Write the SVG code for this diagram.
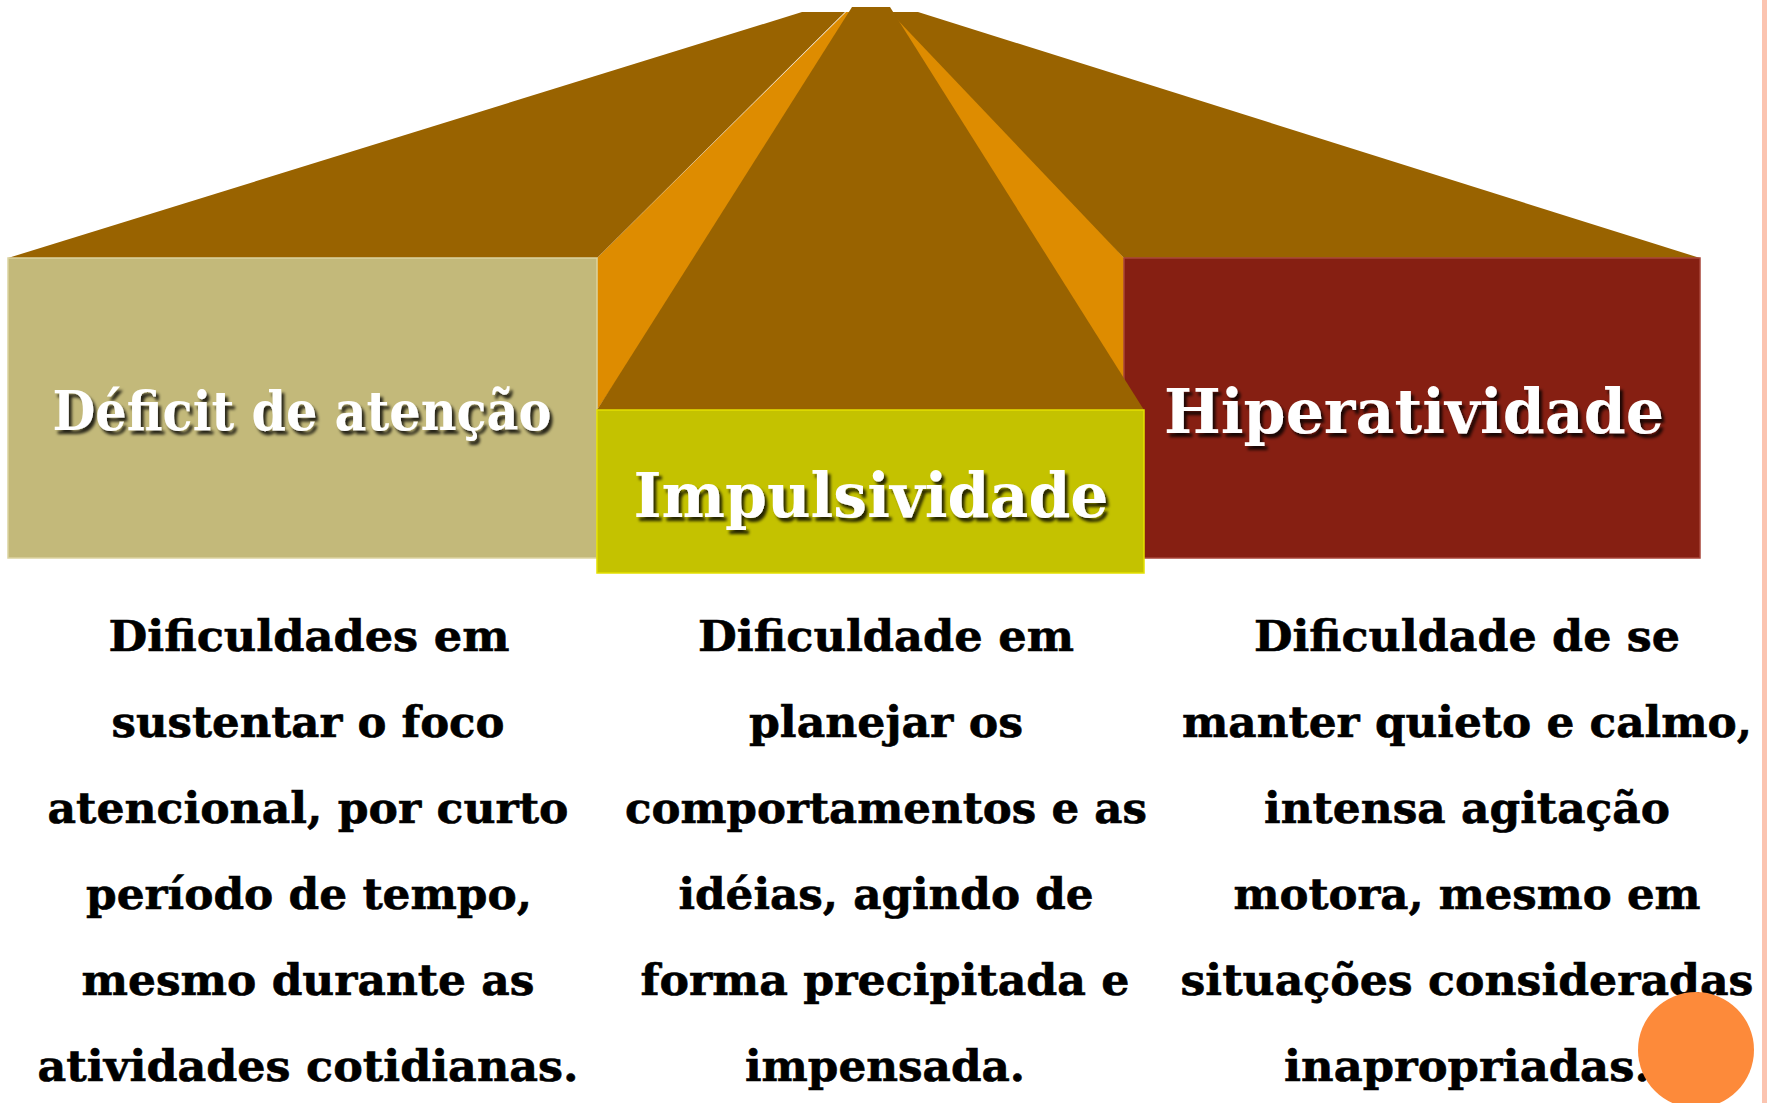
<svg xmlns="http://www.w3.org/2000/svg" width="1767" height="1103" viewBox="0 0 1767 1103">
  <defs>
    <filter id="shadow" x="-10%" y="-30%" width="120%" height="160%">
      <feDropShadow dx="3" dy="4" stdDeviation="1.6" flood-color="#000" flood-opacity="0.8"/>
    </filter>
    <style>
      .roof { fill: #996300; }
      .side { fill: #DE8C00; }
      .head { font-family: "DejaVu Serif", "Liberation Serif", serif; font-weight: bold; fill: #ffffff; text-anchor: middle; filter: url(#shadow); }
      .body { font-family: "DejaVu Serif", "Liberation Serif", serif; font-weight: bold; font-size: 43px; fill: #000000; stroke: #000000; stroke-width: 0.6; text-anchor: middle; }
    </style>
  </defs>
  <rect x="0" y="0" width="1767" height="1103" fill="#ffffff"/>
  <rect x="1762" y="0" width="5" height="1103" fill="#FBC4B0"/>

  <g id="roof">
    <polygon class="side" points="597,258 846,12 862,12 597,410"/>
    <polygon class="side" points="882,12 906,12 1124,258 1124,410 1144,410"/>
    <polygon class="roof" points="8,258 802,12 845,12 597,258"/>
    <polygon class="roof" points="890,12 918,12 1700,258 1124,258"/>
  </g>

  <g id="node-hiperatividade">
    <rect x="1124" y="258" width="576" height="300" fill="#861F12" stroke="#A8463A" stroke-width="1.5"/>
    <text class="head" x="1414" y="433" font-size="62" textLength="500" lengthAdjust="spacingAndGlyphs">Hiperatividade</text>
  </g>

  <g id="node-deficit">
    <rect x="8" y="258" width="589" height="300" fill="#C3B97A" stroke="#DCD3A0" stroke-width="1.5"/>
    <text class="head" x="302" y="430" font-size="54" textLength="499" lengthAdjust="spacingAndGlyphs">Déficit de atenção</text>
  </g>

  <g id="node-impulsividade">
    <polygon class="roof" points="852,7 890,7 1144,410 597,410"/>
    <rect x="597" y="410" width="547" height="163" fill="#C4C200" stroke="#E3E000" stroke-width="1.5"/>
    <text class="head" x="871" y="517" font-size="62" textLength="475" lengthAdjust="spacingAndGlyphs">Impulsividade</text>
  </g>

  <g id="connectors"></g>

  <g id="text-deficit">
    <text class="body" x="309" y="651" textLength="401" lengthAdjust="spacingAndGlyphs">Dificuldades em</text>
    <text class="body" x="308" y="737" textLength="393" lengthAdjust="spacingAndGlyphs">sustentar o foco</text>
    <text class="body" x="308" y="823" textLength="521" lengthAdjust="spacingAndGlyphs">atencional, por curto</text>
    <text class="body" x="309" y="909" textLength="446" lengthAdjust="spacingAndGlyphs">período de tempo,</text>
    <text class="body" x="308" y="995" textLength="453" lengthAdjust="spacingAndGlyphs">mesmo durante as</text>
    <text class="body" x="308" y="1081" textLength="541" lengthAdjust="spacingAndGlyphs">atividades cotidianas.</text>
  </g>

  <g id="text-impulsividade">
    <text class="body" x="886" y="651" textLength="376" lengthAdjust="spacingAndGlyphs">Dificuldade em</text>
    <text class="body" x="886" y="737" textLength="274" lengthAdjust="spacingAndGlyphs">planejar os</text>
    <text class="body" x="886" y="823" textLength="522" lengthAdjust="spacingAndGlyphs">comportamentos e as</text>
    <text class="body" x="886" y="909" textLength="415" lengthAdjust="spacingAndGlyphs">idéias, agindo de</text>
    <text class="body" x="885" y="995" textLength="489" lengthAdjust="spacingAndGlyphs">forma precipitada e</text>
    <text class="body" x="885" y="1081" textLength="280" lengthAdjust="spacingAndGlyphs">impensada.</text>
  </g>

  <g id="text-hiperatividade">
    <text class="body" x="1467" y="651" textLength="426" lengthAdjust="spacingAndGlyphs">Dificuldade de se</text>
    <text class="body" x="1467" y="737" textLength="570" lengthAdjust="spacingAndGlyphs">manter quieto e calmo,</text>
    <text class="body" x="1467" y="823" textLength="406" lengthAdjust="spacingAndGlyphs">intensa agitação</text>
    <text class="body" x="1467" y="909" textLength="467" lengthAdjust="spacingAndGlyphs">motora, mesmo em</text>
    <text class="body" x="1467" y="995" textLength="573" lengthAdjust="spacingAndGlyphs">situações consideradas</text>
    <text class="body" x="1467" y="1081" textLength="366" lengthAdjust="spacingAndGlyphs">inapropriadas.</text>
  </g>

  <circle id="corner-dot" cx="1696" cy="1050" r="58" fill="#FD8A3A"/>
</svg>
